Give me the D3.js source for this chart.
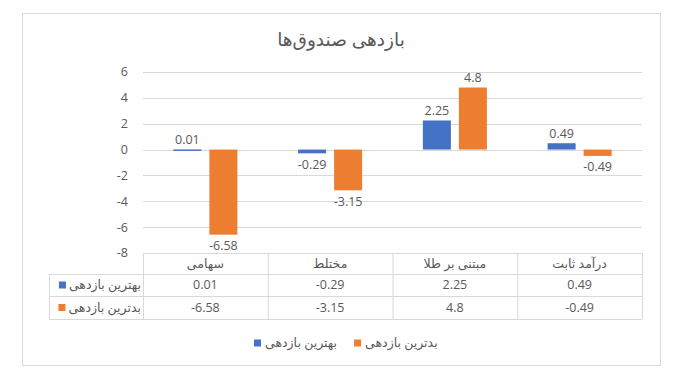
<!DOCTYPE html>
<html>
<head>
<meta charset="utf-8">
<script src="https://cdn.jsdelivr.net/npm/d3@7"></script>
<style>
  body { margin: 0; background: #fff; }
  text { font-family: "Open Sans", "DejaVu Sans", sans-serif; fill: #595959; }
</style>
</head>
<body>
<svg id="chart" width="683" height="386"></svg>
<script>
// chart data
var title = "بازدهی صندوق‌ها";
var categories = ["سهامی", "مختلط", "مبتنی بر طلا", "درآمد ثابت"];
var seriesNames = ["بهترین بازدهی", "بدترین بازدهی"];
var bestValues = [0.01, -0.29, 2.25, 0.49];
var worstValues = [-6.58, -3.15, 4.8, -0.49];
var yTicks = [-8, -6, -4, -2, 0, 2, 4, 6];
var colors = ["#4472C4", "#ED7D31"];

var seriesValues = [bestValues, worstValues];

var svg = d3.select("#chart");

// chart border
svg.append("rect")
  .attr("x", 22.5).attr("y", 13.5)
  .attr("width", 638).attr("height", 352)
  .attr("fill", "none")
  .attr("stroke", "#d9d9d9");

svg.append("text")
  .attr("x", 341).attr("y", 46)
  .attr("text-anchor", "middle")
  .attr("font-size", 18.5)
  .text(title);

var plotLeft = 143, plotRight = 642, plotTop = 72, plotBottom = 253;

var x = d3.scaleBand().domain(categories).range([plotLeft, plotRight]);
var xs = d3.scaleBand().domain(seriesNames)
  .range([0, x.bandwidth()])
  .paddingInner(0.222).paddingOuter(0.843);
var y = d3.scaleLinear().domain([-8, 6]).range([plotBottom, plotTop]);

// gridlines
svg.append("g").selectAll("line")
  .data(yTicks)
  .enter().append("line")
  .attr("x1", plotLeft).attr("x2", plotRight)
  .attr("y1", function(d){ return Math.round(y(d)) + 0.5; })
  .attr("y2", function(d){ return Math.round(y(d)) + 0.5; })
  .attr("stroke", "#d9d9d9");

// y axis labels
svg.append("g").selectAll("text")
  .data(yTicks)
  .enter().append("text")
  .attr("x", 128)
  .attr("y", function(d){ return y(d); })
  .attr("dy", "0.35em")
  .attr("text-anchor", "end")
  .attr("font-size", 12.5)
  .text(function(d){ return d; });

// bars
seriesNames.forEach(function(s, si) {
  var g = svg.append("g");
  g.selectAll("rect")
    .data(seriesValues[si])
    .enter().append("rect")
    .attr("x", function(d, i){ return x(categories[i]) + xs(s); })
    .attr("width", xs.bandwidth())
    .attr("y", function(d){ return y(Math.max(0, d)); })
    .attr("height", function(d){ return Math.max(1.5, Math.abs(y(d) - y(0))); })
    .attr("fill", colors[si]);

  g.selectAll("text")
    .data(seriesValues[si])
    .enter().append("text")
    .attr("x", function(d, i){ return x(categories[i]) + xs(s) + xs.bandwidth() / 2; })
    .attr("y", function(d){ return d >= 0 ? y(d) - 10 : y(d) + 11; })
    .attr("dy", "0.35em")
    .attr("text-anchor", "middle")
    .attr("font-size", 12.5)
    .text(function(d){ return d; });
});

// data table
var rowH = [21, 22, 23];
var rowY = [plotBottom, plotBottom + rowH[0], plotBottom + rowH[0] + rowH[1], plotBottom + rowH[0] + rowH[1] + rowH[2]];
var labelLeft = 49;
var tg = svg.append("g").attr("stroke", "#d9d9d9");

// horizontal lines
tg.append("line").attr("x1", plotLeft).attr("x2", plotRight).attr("y1", rowY[0] + 0.5).attr("y2", rowY[0] + 0.5);
[1, 2, 3].forEach(function(r) {
  tg.append("line").attr("x1", labelLeft).attr("x2", plotRight)
    .attr("y1", rowY[r] + 0.5).attr("y2", rowY[r] + 0.5);
});
// vertical lines
categories.forEach(function(c) {
  tg.append("line").attr("x1", x(c) + 0.5).attr("x2", x(c) + 0.5)
    .attr("y1", rowY[0]).attr("y2", rowY[3]);
});
tg.append("line").attr("x1", plotRight + 0.5).attr("x2", plotRight + 0.5).attr("y1", rowY[0]).attr("y2", rowY[3]);
tg.append("line").attr("x1", labelLeft + 0.5).attr("x2", labelLeft + 0.5).attr("y1", rowY[1]).attr("y2", rowY[3]);

// header
svg.append("g").selectAll("text")
  .data(categories)
  .enter().append("text")
  .attr("x", function(d){ return x(d) + x.bandwidth() / 2; })
  .attr("y", (rowY[0] + rowY[1]) / 2)
  .attr("dy", "0.35em")
  .attr("text-anchor", "middle")
  .attr("font-size", 12.5)
  .text(function(d){ return d; });

seriesNames.forEach(function(s, si) {
  var cy = (rowY[si + 1] + rowY[si + 2]) / 2;
  var lab = svg.append("text")
    .attr("x", plotLeft - 2)
    .attr("y", cy)
    .attr("dy", "0.35em")
    .attr("text-anchor", "end")
    .attr("font-size", 12.5)
    .text(s);
  var w = lab.node().getComputedTextLength();
  svg.append("rect")
    .attr("x", plotLeft - 2 - w - 10).attr("y", cy - 3.5)
    .attr("width", 7).attr("height", 7)
    .attr("fill", colors[si]);

  svg.append("g").selectAll("text")
    .data(seriesValues[si])
    .enter().append("text")
    .attr("x", function(d, i){ return x(categories[i]) + x.bandwidth() / 2; })
    .attr("y", cy)
    .attr("dy", "0.35em")
    .attr("text-anchor", "middle")
    .attr("font-size", 12.5)
    .text(function(d){ return d; });
});

// legend
var legY = 343;
var leg = svg.append("g");
var lx = 254;
seriesNames.forEach(function(s, si) {
  leg.append("rect")
    .attr("x", lx).attr("y", legY - 3.5)
    .attr("width", 7).attr("height", 7)
    .attr("fill", colors[si]);
  var t = leg.append("text")
    .attr("x", lx + 11).attr("y", legY)
    .attr("dy", "0.35em")
    .attr("font-size", 12.5)
    .text(s);
  lx += 11 + t.node().getComputedTextLength() + 17;
});
</script>
</body>
</html>
